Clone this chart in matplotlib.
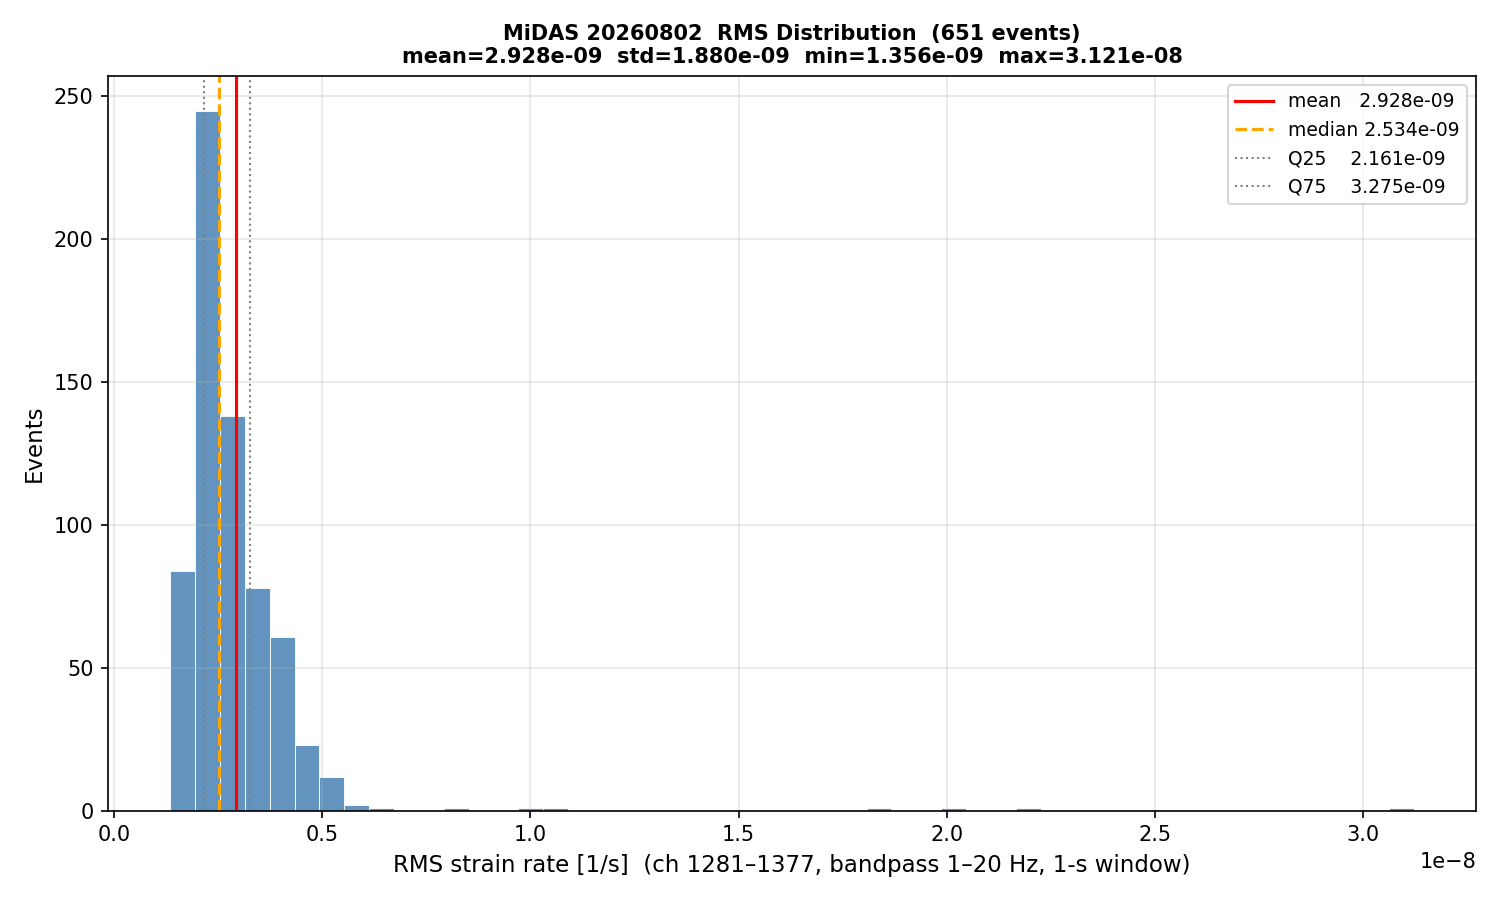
import numpy as np
import matplotlib
matplotlib.use("Agg")
import matplotlib.pyplot as plt

vmin, vmax = 1.356e-9, 3.121e-8
nbins = 50
bin_index = [0, 1, 2, 3, 4, 5, 6, 7, 8, 11, 14, 15, 28, 31, 34, 49]
counts = [84, 245, 138, 78, 61, 23, 12, 2, 1, 1, 1, 1, 1, 1, 1, 1]
mean, median, q25, q75 = 2.928e-9, 2.534e-9, 2.161e-9, 3.275e-9

edges = np.linspace(vmin, vmax, nbins + 1)
centers = (edges[:-1] + edges[1:]) / 2

fig, ax = plt.subplots(figsize=(10, 6), dpi=150)
ax.hist(centers[bin_index], bins=edges, weights=counts, color="steelblue",
        edgecolor="white", linewidth=0.5, alpha=0.85)
ax.axvline(mean, color="red", lw=1.5, label=f"mean   {mean:.3e}")
ax.axvline(median, color="orange", lw=1.5, ls="--", label=f"median {median:.3e}")
ax.axvline(q25, color="gray", lw=1, ls=":", label=f"Q25    {q25:.3e}")
ax.axvline(q75, color="gray", lw=1, ls=":", label=f"Q75    {q75:.3e}")
ax.grid(alpha=0.3)
ax.set_xlabel("RMS strain rate [1/s]  (ch 1281–1377, bandpass 1–20 Hz, 1-s window)", fontsize=11)
ax.set_ylabel("Events", fontsize=11)
ax.set_title("MiDAS 20260802  RMS Distribution  (651 events)\n"
             "mean=2.928e-09  std=1.880e-09  min=1.356e-09  max=3.121e-08",
             fontsize=10, fontweight="bold")
ax.legend(loc="upper right", fontsize=9)
fig.subplots_adjust(left=0.072, right=0.984, top=0.916, bottom=0.099)
fig.savefig("out.png")
